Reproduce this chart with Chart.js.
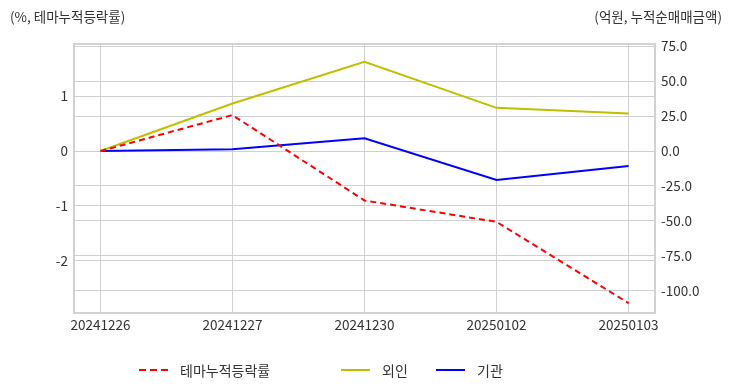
<!DOCTYPE html>
<html>
<head>
<meta charset="utf-8">
<script src="https://cdn.jsdelivr.net/npm/chart.js@4.4.1/dist/chart.umd.min.js"></script>
<style>
    body { margin: 0; background: #fff; font-family: "Noto Sans CJK KR", "Noto Sans", sans-serif; }
    #wrap { position: relative; width: 732px; height: 392px; }
    #chart { position: absolute; left: 0; top: 0; }
    .axis-title { position: absolute; top: 6px; font-size: 13.5px; color: #333; white-space: nowrap; }
    #legend { position: absolute; top: 360px; left: 0; width: 732px; height: 20px; font-size: 14px; color: #333; }
    .item { position: absolute; top: 0; display: flex; align-items: center; height: 20px; }
    .item svg { margin-right: 12px; }
</style>
</head>
<body>
<div id="wrap">
    <canvas id="chart" width="732" height="392"></canvas>
    <div class="axis-title" style="left:10px">(%, 테마누적등락률)</div>
    <div class="axis-title" style="right:10px">(억원, 누적순매매금액)</div>
    <div id="legend"></div>
</div>
<script>
// Data
const dates = ['20241226', '20241227', '20241230', '20250102', '20250103'];
const themeRate = [0, 0.655, -0.9, -1.29, -2.77];     // %, left axis
const foreign = [0, 34.0, 63.8, 30.9, 26.9];          // 억원, right axis
const institution = [0, 1.2, 9.2, -20.7, -10.7];      // 억원, right axis
const leftTicks = [1, 0, -1, -2];
const rightTicks = [75, 50, 25, 0, -25, -50, -75, -100];

const seriesNames = ['테마누적등락률', '외인', '기관'];
const seriesColors = ['#ff0000', '#bfbf00', '#0000ff'];

const toPoints = arr => arr.map((v, i) => ({ x: i, y: v }));
const gridColor = '#d0d0d0';
const tickFont = { family: '"Noto Sans CJK KR", "Noto Sans", sans-serif', size: 13.5 };

// Frame round the plot area
const framePlugin = {
    id: 'frame',
    afterDatasetsDraw(chart) {
        const a = chart.chartArea;
        const ctx = chart.ctx;
        ctx.save();
        ctx.strokeStyle = '#d2d2d2';
        ctx.lineWidth = 2;
        ctx.strokeRect(a.left, a.top, a.right - a.left, a.bottom - a.top);
        ctx.restore();
    }
};

new Chart(document.getElementById('chart'), {
    type: 'line',
    data: {
        datasets: [
            {
                label: seriesNames[0],
                data: toPoints(themeRate),
                yAxisID: 'y',
                borderColor: seriesColors[0],
                borderWidth: 2,
                borderDash: [6, 4],
                pointRadius: 0,
                tension: 0
            },
            {
                label: seriesNames[1],
                data: toPoints(foreign),
                yAxisID: 'y1',
                borderColor: seriesColors[1],
                borderWidth: 2,
                pointRadius: 0,
                tension: 0
            },
            {
                label: seriesNames[2],
                data: toPoints(institution),
                yAxisID: 'y1',
                borderColor: seriesColors[2],
                borderWidth: 2,
                pointRadius: 0,
                tension: 0
            }
        ]
    },
    options: {
        responsive: false,
        animation: false,
        layout: { padding: { top: 44, left: 0, right: 0, bottom: 0 } },
        plugins: {
            legend: { display: false },
            tooltip: { enabled: false }
        },
        scales: {
            x: {
                type: 'linear',
                min: -0.2,
                max: 4.2,
                afterBuildTicks: s => { s.ticks = dates.map((d, i) => ({ value: i })); },
                afterFit: s => { s.height = 79; },
                grid: { color: gridColor, drawTicks: false },
                border: { display: false },
                ticks: {
                    font: tickFont,
                    color: '#333',
                    padding: 4,
                    maxRotation: 0,
                    autoSkip: false,
                    callback: v => dates[v]
                }
            },
            y: {
                position: 'left',
                min: -2.95,
                max: 1.95,
                afterBuildTicks: s => { s.ticks = leftTicks.map(v => ({ value: v })); },
                afterFit: s => { s.width = 74; },
                grid: { color: gridColor, drawTicks: false },
                border: { display: false },
                ticks: { font: tickFont, color: '#333', padding: 6, callback: v => String(v) }
            },
            y1: {
                position: 'right',
                min: -115.9,
                max: 76.6,
                afterBuildTicks: s => { s.ticks = rightTicks.map(v => ({ value: v })); },
                afterFit: s => { s.width = 77; },
                grid: { color: gridColor, drawTicks: false },
                border: { display: false },
                ticks: { font: tickFont, color: '#333', padding: 6, callback: v => v.toFixed(1) }
            }
        }
    },
    plugins: [framePlugin]
});

// Legend below the chart
const legend = document.getElementById('legend');
const legendX = [139, 341, 436];
seriesNames.forEach((name, i) => {
    const item = document.createElement('div');
    item.className = 'item';
    item.style.left = legendX[i] + 'px';
    const dash = i === 0 ? ' stroke-dasharray="7,4"' : '';
    item.innerHTML = '<svg width="29" height="4"><line x1="0" y1="2" x2="29" y2="2" stroke="' +
        seriesColors[i] + '" stroke-width="2"' + dash + '/></svg><span>' + name + '</span>';
    legend.appendChild(item);
});
</script>
</body>
</html>
